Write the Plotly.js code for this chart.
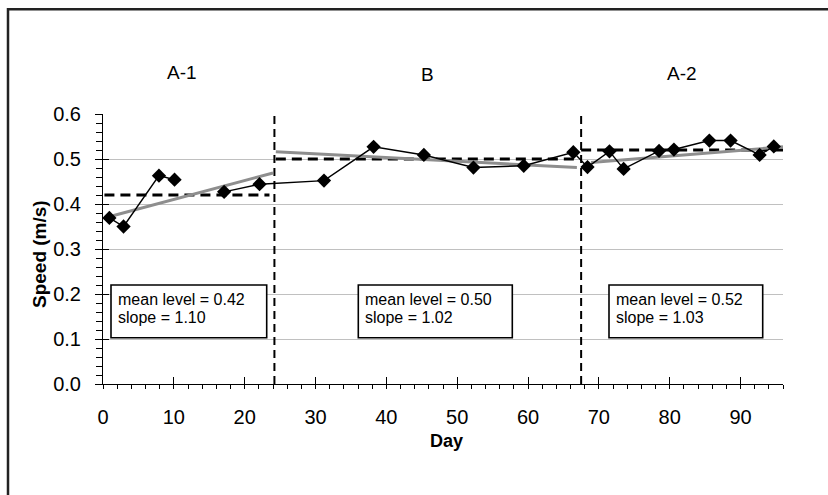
<!DOCTYPE html>
<html>
<head>
<meta charset="utf-8">
<script src="https://cdn.plot.ly/plotly-3.0.1.min.js"></script>
<style>
html,body{margin:0;padding:0;background:#fff;}
#chart{width:828px;height:495px;}
</style>
</head>
<body>
<div id="chart"></div>
<script>
// ---- data ----
const days   = [0.9, 2.9, 7.9, 10.1, 17.1, 22.1, 31.2, 38.2, 45.3, 52.3, 59.4, 66.4, 68.4, 71.5, 73.5, 78.5, 80.6, 85.6, 88.6, 92.7, 94.7];
const speeds = [0.369, 0.350, 0.463, 0.454, 0.427, 0.444, 0.452, 0.527, 0.509, 0.481, 0.485, 0.515, 0.482, 0.517, 0.478, 0.518, 0.521, 0.541, 0.541, 0.509, 0.528];
const gapAfterDay = 10.1;

const phases      = ['A-1', 'B', 'A-2'];
const phaseBounds = [24.2, 67.5];
const meanLevels  = [0.42, 0.50, 0.52];
const meanStartX  = [0.2, 24.4, 67.5];
const meanEndX    = [23.5, 67.3, 96];
const trendStartX = [0.45, 24.4, 68.9];
const trendStartY = [0.370, 0.516, 0.492];
const trendEndX   = [24.0, 66.9, 96];
const trendEndY   = [0.469, 0.481, 0.527];
const meanLabels  = ['0.42', '0.50', '0.52'];
const slopeLabels = ['1.10', '1.02', '1.03'];

// ---- geometry helpers (pixel -> coords) ----
const ML = 103, MR = 45, MT = 114, MB = 111;
const PW = 828 - ML - MR, PH = 495 - MT - MB;
const XMAX = 96, YMAX = 0.6;
const dx = px => (px - ML) / PW * XMAX;
const dy = py => (495 - MB - py) / PH * YMAX;
const px2paper = px => (px - ML) / PW;
const py2paper = py => (495 - MB - py) / PH;

const FONT = 'Arial, "Liberation Sans", sans-serif';

// data line with a break
const lx = [], ly = [];
days.forEach((d, i) => {
  lx.push(d); ly.push(speeds[i]);
  if (d === gapAfterDay) { lx.push(null); ly.push(null); }
});

const traces = [];
// phase boundaries
phaseBounds.forEach(b => traces.push({
  x: [b, b], y: [0, YMAX], mode: 'lines', showlegend: false, hoverinfo: 'skip',
  line: {color: '#000', width: 2, dash: '8px,5px'}
}));
// mean levels
meanLevels.forEach((m, i) => traces.push({
  x: [meanStartX[i], meanEndX[i]], y: [m, m], mode: 'lines', showlegend: false, hoverinfo: 'skip',
  line: {color: '#000', width: 3, dash: '10px,6px'}
}));
// trend lines
trendStartX.forEach((x0, i) => traces.push({
  x: [x0, trendEndX[i]], y: [trendStartY[i], trendEndY[i]], mode: 'lines', showlegend: false, hoverinfo: 'skip',
  line: {color: '#8e8e8e', width: 3}
}));
// data
traces.push({
  x: lx, y: ly, mode: 'lines+markers', connectgaps: false, showlegend: false,
  line: {color: '#000', width: 1.4},
  marker: {symbol: 'diamond', size: 11, color: '#000'}
});
// dummy trace for the overlay axes (inside tick marks)
traces.push({x: [null], y: [null], xaxis: 'x2', yaxis: 'y2', showlegend: false, hoverinfo: 'skip', mode: 'markers'});

// boxes
const boxLeftPx  = [111, 358.3, 609];
const boxRightPx = [266.7, 512.3, 762.7];
const boxTopPx = 285, boxBotPx = 337.7;
const shapes = [];
boxLeftPx.forEach((l, i) => shapes.push({
  type: 'rect', xref: 'x', yref: 'y', layer: 'above',
  x0: dx(l), x1: dx(boxRightPx[i]), y0: dy(boxBotPx), y1: dy(boxTopPx),
  fillcolor: '#fff', line: {color: '#000', width: 1.6}
}));
// outer frame
shapes.push({
  type: 'rect', xref: 'paper', yref: 'paper', layer: 'above',
  x0: px2paper(8), x1: px2paper(840), y0: py2paper(510), y1: py2paper(9.3),
  fillcolor: 'rgba(0,0,0,0)', line: {color: '#222', width: 2.5}
});

const annotations = [];
const phaseLabelPx = [[181.7, 72.7], [427.7, 74], [681.7, 73.3]];
phases.forEach((p, i) => annotations.push({
  text: p, xref: 'paper', yref: 'paper',
  x: px2paper(phaseLabelPx[i][0]), y: py2paper(phaseLabelPx[i][1]),
  xanchor: 'center', yanchor: 'middle', showarrow: false,
  font: {family: FONT, size: 19, color: '#000'}
}));
boxLeftPx.forEach((l, i) => {
  annotations.push({
    text: 'mean level = ' + meanLabels[i], xref: 'paper', yref: 'paper',
    x: px2paper(l + 4.5), y: py2paper(299.3), xanchor: 'left', yanchor: 'middle',
    showarrow: false, font: {family: FONT, size: 16, color: '#000'}
  });
  annotations.push({
    text: 'slope = ' + slopeLabels[i], xref: 'paper', yref: 'paper',
    x: px2paper(l + 4.5), y: py2paper(317.7), xanchor: 'left', yanchor: 'middle',
    showarrow: false, font: {family: FONT, size: 16, color: '#000'}
  });
});
annotations.push({
  text: 'Day', xref: 'paper', yref: 'paper', x: px2paper(446.7), y: py2paper(441),
  xanchor: 'center', yanchor: 'middle', showarrow: false,
  font: {family: FONT, size: 18, color: '#000', weight: 'bold'}
});
annotations.push({
  text: 'Speed (m/s)', xref: 'paper', yref: 'paper', x: px2paper(39), y: py2paper(254),
  xanchor: 'center', yanchor: 'middle', showarrow: false, textangle: -90,
  font: {family: FONT, size: 19, color: '#000', weight: 'bold'}
});

const tickFont = {family: FONT, size: 20, color: '#000'};
const layout = {
  width: 828, height: 495,
  margin: {l: ML, r: MR, t: MT, b: MB, pad: 0},
  paper_bgcolor: '#fff', plot_bgcolor: '#fff',
  showlegend: false,
  xaxis: {
    range: [0, XMAX], dtick: 10, tick0: 0, showgrid: false, zeroline: false,
    showline: true, linecolor: '#000', linewidth: 1,
    ticks: 'outside', ticklen: 4, tickcolor: '#000', tickwidth: 1,
    minor: {dtick: 2, ticks: 'outside', ticklen: 4, tickcolor: '#000', tickwidth: 1, showgrid: false},
    tickfont: tickFont, ticklabelstandoff: 11, fixedrange: true
  },
  yaxis: {
    range: [0, YMAX], dtick: 0.1, tick0: 0, tickformat: '.1f',
    showgrid: true, gridcolor: '#c0c0c0', gridwidth: 1, zeroline: false,
    showline: true, linecolor: '#000', linewidth: 1,
    ticks: 'outside', ticklen: 7, tickcolor: '#000', tickwidth: 1,
    minor: {dtick: 0.02, ticks: 'outside', ticklen: 6, tickcolor: '#000', tickwidth: 1, showgrid: false},
    tickfont: tickFont, ticklabelstandoff: 10, fixedrange: true
  },
  xaxis2: {
    range: [0, XMAX], dtick: 10, tick0: 0, overlaying: 'x', anchor: 'y2', side: 'bottom',
    showgrid: false, zeroline: false, showline: false, showticklabels: false,
    ticks: 'inside', ticklen: 7, tickcolor: '#000', tickwidth: 1, fixedrange: true
  },
  yaxis2: {
    range: [0, YMAX], dtick: 0.1, tick0: 0, overlaying: 'y', anchor: 'x2', side: 'left',
    showgrid: false, zeroline: false, showline: false, showticklabels: false,
    ticks: 'inside', ticklen: 6, tickcolor: '#000', tickwidth: 1, fixedrange: true
  },
  shapes: shapes,
  annotations: annotations
};

Plotly.newPlot('chart', traces, layout, {displayModeBar: false, staticPlot: true});
</script>
</body>
</html>
